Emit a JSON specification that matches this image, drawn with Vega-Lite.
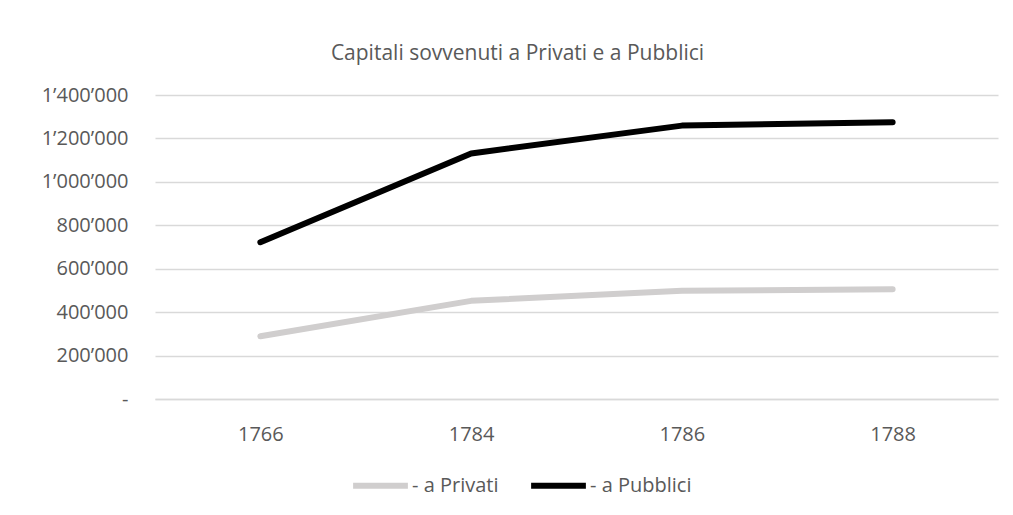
{
  "$schema": "https://vega.github.io/schema/vega-lite/v6.json",
  "autosize": "none",
  "width": 843,
  "height": 304,
  "padding": {"left": 155, "top": 95, "right": 15, "bottom": 116},
  "background": "white",
  "config": {
    "view": {"stroke": null},
    "font": "Open Sans"
  },
  "title": {
    "text": "Capitali sovvenuti a Privati e a Pubblici",
    "font": "Open Sans",
    "fontSize": 21,
    "fontWeight": "normal",
    "color": "#595959",
    "anchor": "middle",
    "dx": -59,
    "offset": 21
  },
  "data": {
    "values": [
      {"anno": "1766", "serie": "- a Privati", "valore": 289000},
      {"anno": "1784", "serie": "- a Privati", "valore": 452000},
      {"anno": "1786", "serie": "- a Privati", "valore": 498000},
      {"anno": "1788", "serie": "- a Privati", "valore": 505000},
      {"anno": "1766", "serie": "- a Pubblici", "valore": 722000},
      {"anno": "1784", "serie": "- a Pubblici", "valore": 1131000},
      {"anno": "1786", "serie": "- a Pubblici", "valore": 1259000},
      {"anno": "1788", "serie": "- a Pubblici", "valore": 1275000}
    ]
  },
  "mark": {"type": "line", "strokeWidth": 6, "strokeCap": "round", "strokeJoin": "round"},
  "encoding": {
    "x": {
      "field": "anno",
      "type": "ordinal",
      "scale": {"type": "point", "padding": 0.5},
      "axis": {
        "title": null,
        "labelAngle": 0,
        "labelFont": "Open Sans",
        "labelFontSize": 20,
        "labelColor": "#595959",
        "labelPadding": 25,
        "ticks": false,
        "domainColor": "#d9d9d9",
        "domainWidth": 1.3,
        "grid": false
      }
    },
    "y": {
      "field": "valore",
      "type": "quantitative",
      "scale": {"domain": [0, 1400000], "nice": false},
      "axis": {
        "title": null,
        "values": [0, 200000, 400000, 600000, 800000, 1000000, 1200000, 1400000],
        "labelExpr": "datum.value == 0 ? '-\u00a0\u00a0' : replace(replace(format(datum.value, ','), ',', '’'), ',', '’')",
        "labelFont": "Open Sans",
        "labelFontSize": 20,
        "labelColor": "#595959",
        "labelPadding": 27,
        "ticks": false,
        "domain": false,
        "grid": true,
        "gridColor": "#d9d9d9",
        "gridWidth": 1.3
      }
    },
    "color": {
      "field": "serie",
      "type": "nominal",
      "scale": {"domain": ["- a Privati", "- a Pubblici"], "range": ["#d0cece", "#000000"]},
      "legend": {
        "title": null,
        "orient": "none",
        "direction": "horizontal",
        "legendX": 195,
        "legendY": 360,
        "symbolType": "stroke",
        "symbolSize": 3000,
        "symbolStrokeWidth": 6,
        "labelFont": "Open Sans",
        "labelFontSize": 20,
        "labelColor": "#595959",
        "labelOffset": 1,
        "columnPadding": 20
      }
    }
  }
}
